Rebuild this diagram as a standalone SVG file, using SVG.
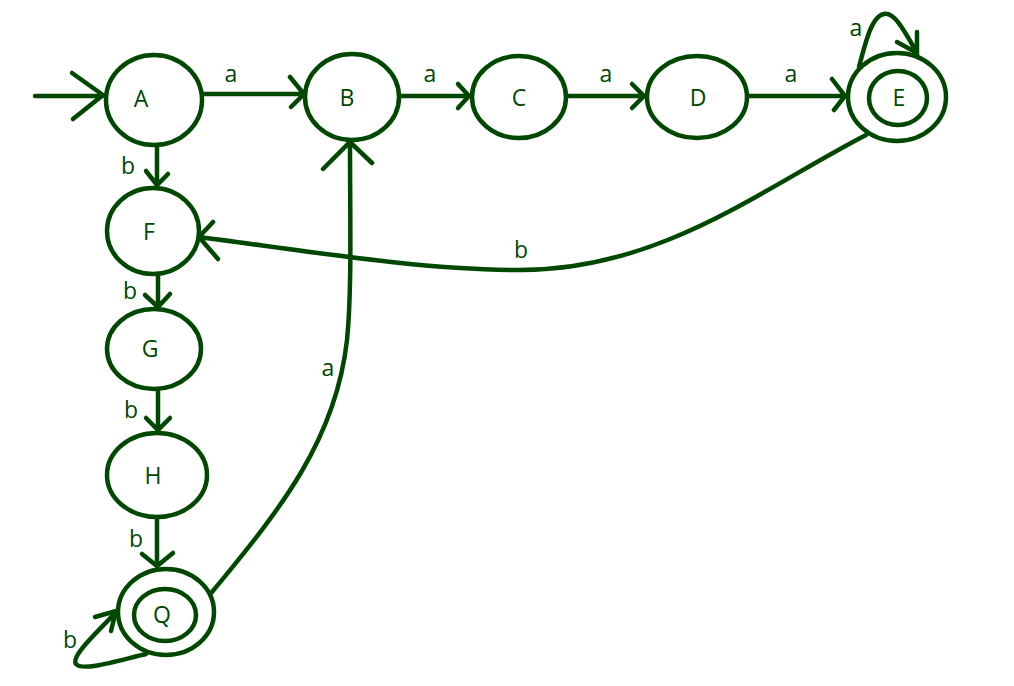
<svg xmlns="http://www.w3.org/2000/svg" width="1014" height="686" viewBox="0 0 1014 686">
<style>
.n{fill:none;stroke:#004800;stroke-width:4.5}
.e{fill:none;stroke:#004800;stroke-width:4.5;stroke-linecap:round}
.t{font-family:"Open Sans","Noto Sans",sans-serif;font-size:23px;fill:#004800;text-anchor:middle}
</style>
<rect width="1014" height="686" fill="#fff"/>
<g id="connectors">
<path class="e" d="M35 96 H103 M72 73 L103 95 L73 119"/>
<path class="e" d="M203 94 H304 M290 77 L304 94 L291 107"/>
<text class="t" x="231" y="82">a</text>
<path class="e" d="M400 96 H469 M458 84 L469 96 L458 108"/>
<text class="t" x="430" y="82">a</text>
<path class="e" d="M566 96 H644 M632 84 L644 96 L632 108"/>
<text class="t" x="606" y="82">a</text>
<path class="e" d="M748 96 H845 M832 79 L845 96 L834 110"/>
<text class="t" x="791" y="82">a</text>
<path class="e" d="M859 67 C866 40,872 16,884 14 C895 12,905 32,917 53 M897 42 L917 53 L917 32"/>
<text class="t" x="856" y="36">a</text>
<path class="e" d="M157 146 V185 M146 171 L157 185 L168 174"/>
<text class="t" x="128" y="174">b</text>
<path class="e" d="M158 274 V307 M145 295 L158 307 L170 294"/>
<text class="t" x="130" y="299">b</text>
<path class="e" d="M158 390 V430 M146 418 L158 430 L170 418"/>
<text class="t" x="131" y="418">b</text>
<path class="e" d="M157 517 V566 M142 554 L157 566 L173 553"/>
<text class="t" x="136" y="547">b</text>
<path class="e" d="M146 654 C120 660,82 672,76 664 C70 656,100 630,116 612 M95 617 L116 611 L111 631"/>
<text class="t" x="70" y="648">b</text>
<path class="e" d="M212 592 C280 510,336 440,347 340 C352 290,350 220,350 142 M323 169 L350 142 L372 163"/>
<text class="t" x="328" y="376">a</text>
<path class="e" d="M866 135 C760 190,660 270,520 270 C420 270,300 250,199 237 M213 222 L199 237 L218 259"/>
<text class="t" x="521" y="258">b</text>
</g>
<g id="A"><ellipse class="n" cx="154" cy="100" rx="48" ry="45"/><text class="t" x="141" y="107">A</text></g>
<g id="B"><ellipse class="n" cx="352" cy="97" rx="47" ry="43"/><text class="t" x="347" y="106">B</text></g>
<g id="C"><ellipse class="n" cx="519" cy="97" rx="47" ry="41"/><text class="t" x="519" y="106">C</text></g>
<g id="D"><ellipse class="n" cx="697" cy="97" rx="50" ry="41"/><text class="t" x="698" y="106">D</text></g>
<g id="E"><ellipse class="n" cx="897" cy="97" rx="49" ry="44"/><ellipse class="n" cx="898" cy="98" rx="29" ry="27"/><text class="t" x="899" y="106">E</text></g>
<g id="F"><ellipse class="n" cx="153" cy="231" rx="46" ry="43"/><text class="t" x="149" y="240">F</text></g>
<g id="G"><ellipse class="n" cx="154" cy="349" rx="47" ry="40"/><text class="t" x="150" y="357">G</text></g>
<g id="H"><ellipse class="n" cx="157" cy="475" rx="50" ry="42"/><text class="t" x="153" y="484">H</text></g>
<g id="Q"><ellipse class="n" cx="166" cy="612" rx="48" ry="43"/><ellipse class="n" cx="165" cy="615" rx="31" ry="26"/><text class="t" x="162" y="623">Q</text></g>
</svg>
